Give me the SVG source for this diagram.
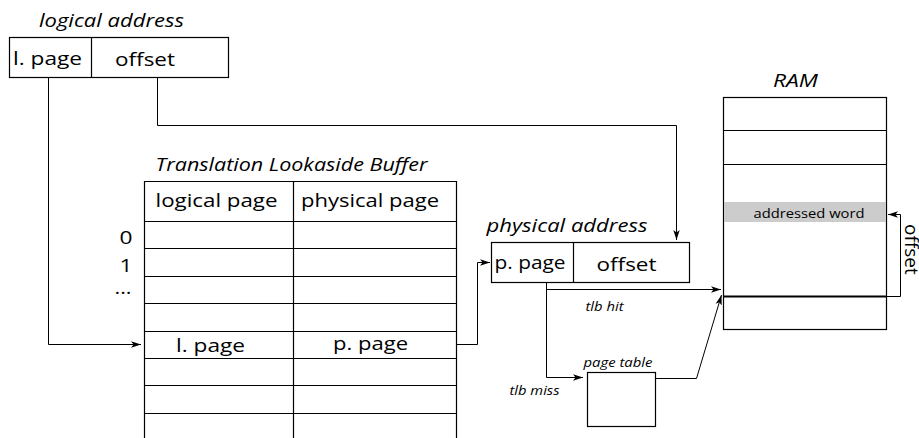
<svg xmlns="http://www.w3.org/2000/svg" width="919" height="438" viewBox="0 0 919 438">
  <style>
    text { font-family: "Open Sans", "Noto Sans", "DejaVu Sans", sans-serif; fill: #000; }
    .it { font-style: italic; }
    .big { font-size: 19px; }
    .small { font-size: 13px; }
    .box { fill: #fff; stroke: #000; stroke-width: 1.2; }
    .ln { fill: none; stroke: #000; stroke-width: 1.2; }
    .wire { fill: none; stroke: #000; stroke-width: 1; marker-end: url(#arr); }
  </style>
  <defs>
    <marker id="arr" viewBox="0 0 10 8" refX="10" refY="4" markerWidth="10" markerHeight="8" markerUnits="userSpaceOnUse" orient="auto">
      <path d="M0,0.8 L10,4 L0,7.2 L2.5,4 Z" fill="#000"/>
    </marker>
  </defs>
  <rect width="919" height="438" fill="#fff"/>

  <!-- logical address -->
  <g id="logical-address">
    <text class="it big" x="39" y="26.5" textLength="145" lengthAdjust="spacingAndGlyphs">logical address</text>
    <rect class="box" x="9.5" y="37.5" width="219" height="40"/>
    <line class="ln" x1="91.5" y1="37.5" x2="91.5" y2="77.5"/>
    <text class="big" x="13" y="64.5" textLength="69" lengthAdjust="spacingAndGlyphs">l. page</text>
    <text class="big" x="115" y="65.5" textLength="60" lengthAdjust="spacingAndGlyphs">offset</text>
  </g>

  <!-- TLB -->
  <g id="tlb">
    <text class="it big" x="155.5" y="170.5" textLength="272" lengthAdjust="spacingAndGlyphs">Translation Lookaside Buffer</text>
    <path class="ln" d="M144.5,438 V181.5 H456.5 V438"/>
    <line class="ln" x1="293.5" y1="181.5" x2="293.5" y2="438"/>
    <g class="ln">
      <line x1="144.5" y1="221.5" x2="456.5" y2="221.5"/>
      <line x1="144.5" y1="248.5" x2="456.5" y2="248.5"/>
      <line x1="144.5" y1="276.5" x2="456.5" y2="276.5"/>
      <line x1="144.5" y1="303.5" x2="456.5" y2="303.5"/>
      <line x1="144.5" y1="331.5" x2="456.5" y2="331.5"/>
      <line x1="144.5" y1="358.5" x2="456.5" y2="358.5"/>
      <line x1="144.5" y1="385.5" x2="456.5" y2="385.5"/>
      <line x1="144.5" y1="413.5" x2="456.5" y2="413.5"/>
    </g>
    <text class="big" x="155.5" y="206.5" textLength="122" lengthAdjust="spacingAndGlyphs">logical page</text>
    <text class="big" x="301" y="207" textLength="138" lengthAdjust="spacingAndGlyphs">physical page</text>
    <text class="big" x="119.5" y="244" textLength="13" lengthAdjust="spacingAndGlyphs">0</text>
    <text class="big" x="119.5" y="271.5" textLength="13" lengthAdjust="spacingAndGlyphs">1</text>
    <text class="big" x="114.5" y="293.5" textLength="17" lengthAdjust="spacingAndGlyphs">...</text>
    <text class="big" x="176" y="351.5" textLength="69" lengthAdjust="spacingAndGlyphs">l. page</text>
    <text class="big" x="333" y="350" textLength="75" lengthAdjust="spacingAndGlyphs">p. page</text>
  </g>

  <!-- physical address -->
  <g id="physical-address">
    <text class="it big" x="486.5" y="231.5" textLength="161" lengthAdjust="spacingAndGlyphs">physical address</text>
    <rect class="box" x="491.5" y="242.5" width="198" height="40"/>
    <line class="ln" x1="573.5" y1="242.5" x2="573.5" y2="282.5"/>
    <text class="big" x="494.5" y="268.5" textLength="71" lengthAdjust="spacingAndGlyphs">p. page</text>
    <text class="big" x="596.5" y="270.5" textLength="60" lengthAdjust="spacingAndGlyphs">offset</text>
  </g>

  <!-- page table -->
  <g id="page-table">
    <text class="it small" x="583.5" y="366.5" textLength="69" lengthAdjust="spacingAndGlyphs">page table</text>
    <rect class="box" x="587.5" y="372.5" width="68" height="54"/>
  </g>

  <!-- RAM -->
  <g id="ram">
    <text class="it big" x="773" y="86.5" textLength="45" lengthAdjust="spacingAndGlyphs">RAM</text>
    <rect class="box" x="723.5" y="97.5" width="163" height="232"/>
    <rect x="724" y="202" width="162" height="20" fill="#cccccc"/>
    <line class="ln" x1="723.5" y1="130.5" x2="886.5" y2="130.5"/>
    <line class="ln" x1="723.5" y1="164.5" x2="886.5" y2="164.5"/>
    <line x1="723.5" y1="296.5" x2="886.5" y2="296.5" stroke="#000" stroke-width="1.8"/>
    <text class="small" x="753.5" y="218" textLength="111" lengthAdjust="spacingAndGlyphs">addressed word</text>
  </g>

  <!-- connectors -->
  <g id="connectors">
    <path class="wire" d="M48.5,77.5 V344.5 H141"/>
    <path class="wire" d="M157.5,77.5 V125.5 H676.5 V240"/>
    <path class="wire" d="M456.5,344.5 H477.5 V262.5 H490"/>
    <path class="wire" d="M546.5,282.5 V377.5 H583"/>
    <path class="wire" d="M546.5,289.5 H721"/>
    <path class="wire" d="M655.5,378.5 H696.5 L721.5,295"/>
    <path class="wire" d="M887,296.5 H900.5 V214.5 H888"/>
    <text class="it small" x="585.5" y="311" textLength="38" lengthAdjust="spacingAndGlyphs">tlb hit</text>
    <text class="it small" x="509.5" y="394.5" textLength="50" lengthAdjust="spacingAndGlyphs">tlb miss</text>
    <text class="big" x="0" y="0" transform="translate(905,224) rotate(90)">offset</text>
  </g>
</svg>
